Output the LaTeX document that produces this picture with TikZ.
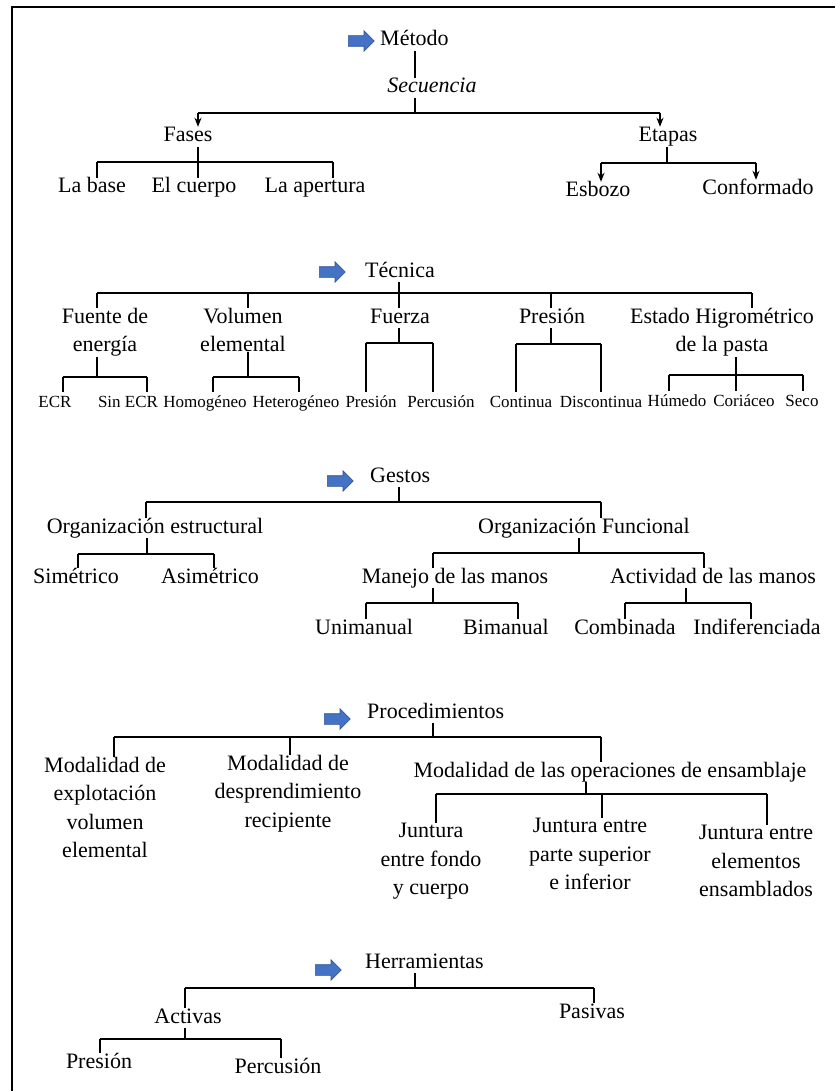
\documentclass[tikz,border=0pt]{standalone}
\usepackage{fontspec}
\setmainfont{Liberation Serif}
\usetikzlibrary{arrows.meta, positioning, shapes.arrows}
\definecolor{PtrBlue}{HTML}{4472C4}
\definecolor{PtrEdge}{HTML}{2F528F}

\begin{document}
\begin{tikzpicture}[x=1pt, y=-1pt,
     T/.style = {font=\fontsize{22}{28.5}\selectfont, inner sep=0pt, text height=15pt, text depth=5pt},
    TM/.style = {font=\fontsize{22}{28.5}\selectfont, inner sep=0pt, align=center, anchor=north},
     S/.style = {font=\fontsize{17}{20}\selectfont, inner sep=0pt, text height=15pt, text depth=4pt},
   ptr/.style = {single arrow, draw=PtrEdge, fill=PtrBlue, line width=0.6pt, anchor=west,
                 minimum height=26pt, minimum width=20pt, inner xsep=0pt, inner ysep=5pt,
                 single arrow head extend=5pt, single arrow tip angle=90},
    ln/.style = {line width=1.4pt},
   bar/.style = {line width=1.8pt},
   dwn/.style = {line width=1.4pt, -{Stealth[length=9pt, width=7pt]}}
                        ]
\useasboundingbox (0,0) rectangle (835,1091);
\draw[line width=2.5pt] (12,1091) -- (12,7) -- (835,7);

% Metodo
\node[ptr] (pM) at (348,41) {};
\node[T, anchor=west] (metodo) at (380,41) {Método};
\node[T, font=\fontsize{22}{28.5}\selectfont\itshape] (secuencia) at (432,88) {Secuencia};
\node[T] (fases)      at (188,137) {Fases};
\node[T] (etapas)     at (668,137) {Etapas};
\node[T] (labase)     at (92,188)  {La base};
\node[T] (elcuerpo)   at (194,188) {El cuerpo};
\node[T] (apertura)   at (315,188) {La apertura};
\node[T] (esbozo)     at (598,192) {Esbozo};
\node[T] (conformado) at (758,190) {Conformado};

\coordinate (jMet) at (415,113);
\coordinate (bMl) at (198,113);
\coordinate (bMr) at (660,113);
\draw[ln] (metodo.south -| jMet) -- (secuencia.north -| jMet);
\draw[ln] (secuencia.south -| jMet) -- (jMet);
\draw[bar] (bMl) -- (bMr);
\draw[dwn] (bMl) -- (fases.north -| bMl);
\draw[dwn] (bMr) -- (etapas.north -| bMr);

\coordinate (bFl) at (97,162);
\coordinate (bFr) at (333,162);
\draw[ln] (fases.south -| bMl) -- (elcuerpo.north -| bMl);
\draw[bar] (bFl) -- (bFr);
\draw[ln] (bFl) -- (labase.north -| bFl);
\draw[ln] (bFr) -- (apertura.north -| bFr);

\coordinate (jEt) at (667,163);
\coordinate (bEl) at (601,163);
\coordinate (bEr) at (756,163);
\draw[ln] (etapas.south -| jEt) -- (jEt);
\draw[bar] (bEl) -- (bEr);
\draw[dwn] (bEl) -- (esbozo.north -| bEl);
\draw[dwn] (bEr) -- (conformado.north -| bEr);

% Tecnica
\node[ptr] (pT) at (319,272) {};
\node[T, anchor=west] (tecnica) at (365,272) {Técnica};
\node[TM] (fuente)  at (105,308) {Fuente de\\energía};
\node[TM] (volumen) at (243,308) {Volumen\\elemental};
\node[T]  (fuerza)  at (400,318) {Fuerza};
\node[T]  (presT)   at (552,318) {Presión};
\node[TM] (estado)  at (722,308) {Estado Higrométrico\\de la pasta};
\node[S] (ecr)         at (55,402)  {ECR};
\node[S] (sinecr)      at (128,402) {Sin ECR};
\node[S] (homog)       at (205,402) {Homogéneo};
\node[S] (heterog)     at (296,402) {Heterogéneo};
\node[S] (presF)       at (371,402) {Presión};
\node[S] (percF)       at (441,402) {Percusión};
\node[S] (continua)    at (521,402) {Continua};
\node[S] (discontinua) at (601,402) {Discontinua};
\node[S] (humedo)      at (677,401) {Húmedo};
\node[S] (coriaceo)    at (744,401) {Coriáceo};
\node[S] (seco)        at (802,401) {Seco};

\coordinate (jTec) at (399,293);
\coordinate (bTl) at (97,293);
\coordinate (bTv) at (248,293);
\coordinate (bTp) at (551,293);
\coordinate (bTr) at (752,293);
\draw[ln] (tecnica.south -| jTec) -- (jTec);
\draw[bar] (bTl) -- (bTr);
\draw[ln] (bTl) -- (fuente.north -| bTl);
\draw[ln] (bTv) -- (volumen.north -| bTv);
\draw[ln] (jTec) -- (fuerza.north -| jTec);
\draw[ln] (bTp) -- (presT.north -| bTp);
\draw[ln] (bTr) -- (estado.north -| bTr);

\coordinate (jFu) at (97,377);
\coordinate (bFul) at (63,377);
\coordinate (bFur) at (147,377);
\draw[ln] (fuente.south -| jFu) -- (jFu);
\draw[bar] (bFul) -- (bFur);
\draw[ln] (bFul) -- (ecr.north -| bFul);
\draw[ln] (bFur) -- (sinecr.north -| bFur);

\coordinate (jVo) at (248,377);
\coordinate (bVol) at (213,377);
\coordinate (bVor) at (299,377);
\draw[ln] (volumen.south -| jVo) -- (jVo);
\draw[bar] (bVol) -- (bVor);
\draw[ln] (bVol) -- (homog.north -| bVol);
\draw[ln] (bVor) -- (heterog.north -| bVor);

\coordinate (jFz) at (399,343);
\coordinate (bFzl) at (366,343);
\coordinate (bFzr) at (433,343);
\draw[ln] (fuerza.south -| jFz) -- (jFz);
\draw[bar] (bFzl) -- (bFzr);
\draw[ln] (bFzl) -- (presF.north -| bFzl);
\draw[ln] (bFzr) -- (percF.north -| bFzr);

\coordinate (jPr) at (551,344);
\coordinate (bPrl) at (516,344);
\coordinate (bPrr) at (601,344);
\draw[ln] (presT.south -| jPr) -- (jPr);
\draw[bar] (bPrl) -- (bPrr);
\draw[ln] (bPrl) -- (continua.north -| bPrl);
\draw[ln] (bPrr) -- (discontinua.north -| bPrr);

\coordinate (jEs) at (736,375);
\coordinate (bEsl) at (669,375);
\coordinate (bEsr) at (803,375);
\draw[ln] (estado.south -| jEs) -- (jEs);
\draw[bar] (bEsl) -- (bEsr);
\draw[ln] (bEsl) -- (humedo.north -| bEsl);
\draw[ln] (jEs) -- (coriaceo.north -| jEs);
\draw[ln] (bEsr) -- (seco.north -| bEsr);

% Gestos
\node[ptr] (pG) at (327,481) {};
\node[T, anchor=west] (gestos) at (370,477) {Gestos};
\node[T] (orgE)       at (155,528) {Organización estructural};
\node[T] (orgF)       at (584,528) {Organización Funcional};
\node[T] (simetrico)  at (76,578)  {Simétrico};
\node[T] (asimetrico) at (210,578) {Asimétrico};
\node[T] (manejo)     at (455,578) {Manejo de las manos};
\node[T] (actividad)  at (713,578) {Actividad de las manos};
\node[T] (unimanual)  at (364,629) {Unimanual};
\node[T] (bimanual)   at (506,629) {Bimanual};
\node[T] (combinada)  at (625,629) {Combinada};
\node[T] (indif)      at (757,629) {Indiferenciada};

\coordinate (jGe) at (399,502);
\coordinate (bGl) at (146,502);
\coordinate (bGr) at (601,502);
\draw[ln] (gestos.south -| jGe) -- (jGe);
\draw[bar] (bGl) -- (bGr);
\draw[ln] (bGl) -- (orgE.north -| bGl);
\draw[ln] (bGr) -- (orgF.north -| bGr);

\coordinate (jOE) at (147,554);
\coordinate (bOEl) at (78,554);
\coordinate (bOEr) at (214,554);
\draw[ln] (orgE.south -| jOE) -- (jOE);
\draw[bar] (bOEl) -- (bOEr);
\draw[ln] (bOEl) -- (simetrico.north -| bOEl);
\draw[ln] (bOEr) -- (asimetrico.north -| bOEr);

\coordinate (jOF) at (579,553);
\coordinate (bOFl) at (433,553);
\coordinate (bOFr) at (704,553);
\draw[ln] (orgF.south -| jOF) -- (jOF);
\draw[bar] (bOFl) -- (bOFr);
\draw[ln] (bOFl) -- (manejo.north -| bOFl);
\draw[ln] (bOFr) -- (actividad.north -| bOFr);

\coordinate (jMa) at (433,603);
\coordinate (bMal) at (366,603);
\coordinate (bMar) at (518,603);
\draw[ln] (manejo.south -| jMa) -- (jMa);
\draw[bar] (bMal) -- (bMar);
\draw[ln] (bMal) -- (unimanual.north -| bMal);
\draw[ln] (bMar) -- (bimanual.north -| bMar);

\coordinate (jAc) at (686,603);
\coordinate (bAcl) at (625,603);
\coordinate (bAcr) at (751,603);
\draw[ln] (actividad.south -| jAc) -- (jAc);
\draw[bar] (bAcl) -- (bAcr);
\draw[ln] (bAcl) -- (combinada.north -| bAcl);
\draw[ln] (bAcr) -- (indif.north -| bAcr);

% Procedimientos
\node[ptr] (pP) at (324,719) {};
\node[T, anchor=west] (proced) at (367,713) {Procedimientos};
\node[TM] (modExp) at (105,757) {Modalidad de\\explotación\\volumen\\elemental};
\node[TM] (modDes) at (288,755) {Modalidad de\\desprendimiento\\recipiente};
\node[T]  (modEns) at (610,772) {Modalidad de las operaciones de ensamblaje};
\node[TM] (junt1)  at (431,823) {Juntura\\entre fondo\\y cuerpo};
\node[TM] (junt2)  at (590,818) {Juntura entre\\parte superior\\e inferior};
\node[TM] (junt3)  at (756,825) {Juntura entre\\elementos\\ensamblados};

\coordinate (jPc) at (433,737);
\coordinate (bPl) at (114,737);
\coordinate (bPm) at (290,737);
\coordinate (bPr) at (601,737);
\draw[ln] (proced.south -| jPc) -- (jPc);
\draw[bar] (bPl) -- (bPr);
\draw[ln] (bPl) -- (modExp.north -| bPl);
\draw[ln] (bPm) -- (modDes.north -| bPm);
\draw[ln] (bPr) -- (modEns.north -| bPr);

\coordinate (jEn) at (586,794);
\coordinate (bEnl) at (436,794);
\coordinate (bEnm) at (602,794);
\coordinate (bEnr) at (767,794);
\draw[ln] (modEns.south -| jEn) -- (jEn);
\draw[bar] (bEnl) -- (bEnr);
\draw[ln] (bEnl) -- (junt1.north -| bEnl);
\draw[ln] (bEnm) -- (junt2.north -| bEnm);
\draw[ln] (bEnr) -- (junt3.north -| bEnr);

% Herramientas
\node[ptr] (pH) at (315,970) {};
\node[T, anchor=west] (herram) at (365,963) {Herramientas};
\node[T] (activas) at (188,1018) {Activas};
\node[T] (pasivas) at (592,1013) {Pasivas};
\node[T] (presH)   at (99,1063)  {Presión};
\node[T] (percH)   at (278,1068) {Percusión};

\coordinate (jHe) at (415,988);
\coordinate (bHl) at (185,988);
\coordinate (bHr) at (594,988);
\draw[ln] (herram.south -| jHe) -- (jHe);
\draw[bar] (bHl) -- (bHr);
\draw[ln] (bHl) -- (activas.north -| bHl);
\draw[ln] (bHr) -- (pasivas.north -| bHr);

\coordinate (jAt) at (185,1039);
\coordinate (bAtl) at (100,1039);
\coordinate (bAtr) at (281,1039);
\draw[ln] (activas.south -| jAt) -- (jAt);
\draw[bar] (bAtl) -- (bAtr);
\draw[ln] (bAtl) -- (presH.north -| bAtl);
\draw[ln] (bAtr) -- (percH.north -| bAtr);
\end{tikzpicture}
\end{document}
